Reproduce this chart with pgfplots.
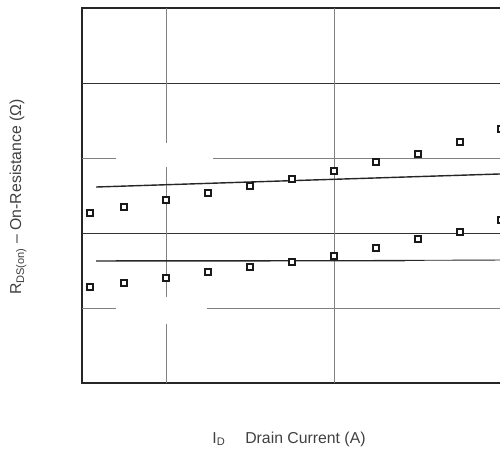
\documentclass[border=0pt]{standalone}
\usepackage{pgfplots}
\pgfplotsset{compat=1.18}
\usepackage{fontspec}
\setmainfont{Liberation Sans}
\begin{document}
\begin{tikzpicture}[x=1pt,y=1pt]
\path[use as bounding box] (0,0) rectangle (500,454);
\clip (0,0) rectangle (500,454);
\begin{axis}[
  at={(82pt,71pt)}, anchor=south west,
  scale only axis, width=420pt, height=375pt,
  xmin=0, xmax=5, ymin=0, ymax=5,
  ticks=none,
  clip=false,
  axis line style={line width=1.6pt, black!85},
]
% grid lines (with the gaps of the reference)
\draw[black!80, line width=0.9pt] (0,4) -- (5,4);
\draw[black!80, line width=0.9pt] (0,2) -- (5,2);
\draw[black!50, line width=0.9pt] (0,3) -- (0.405,3);
\draw[black!50, line width=0.9pt] (1.56,3) -- (5,3);
\draw[black!50, line width=0.9pt] (0,1) -- (0.405,1);
\draw[black!50, line width=0.9pt] (1.49,1) -- (5,1);
\draw[black!50, line width=0.9pt] (1,5) -- (1,3.2);
\draw[black!50, line width=0.9pt] (1,2.88) -- (1,1.147);
\draw[black!50, line width=0.9pt] (1,0.787) -- (1,0);
\draw[black!50, line width=0.9pt] (3,5) -- (3,0);
% fitted lines
\addplot[black!85, line width=1.4pt, no marks] coordinates {
  (0.167,2.613) (2,2.68) (4.98,2.787) (5.1,2.795)};
\addplot[black!85, line width=1.4pt, no marks] coordinates {
  (0.167,1.627) (3.845,1.631)};
\addplot[black!85, line width=0.9pt, no marks] coordinates {
  (3.845,1.635) (5.1,1.64)};
% measured points
\addplot[only marks, mark=square*, mark size=3.2pt,
  mark options={fill=white, draw=black!90, line width=1.5pt}] coordinates {
  (0.095,2.267) (0.5,2.347) (1.0,2.44) (1.5,2.533) (2.0,2.627)
  (2.5,2.72) (3.0,2.827) (3.5,2.947) (4.0,3.053) (4.5,3.213) (4.99,3.387)};
\addplot[only marks, mark=square*, mark size=3.2pt,
  mark options={fill=white, draw=black!90, line width=1.5pt}] coordinates {
  (0.095,1.28) (0.5,1.333) (1.0,1.40) (1.5,1.48) (2.0,1.547)
  (2.5,1.613) (3.0,1.693) (3.5,1.80) (4.0,1.92) (4.5,2.013) (4.99,2.173)};
\end{axis}
\node[rotate=90, text=black!75, font=\fontsize{15.8}{18}\selectfont] at (18,257)
  {R\textsubscript{DS(on)} -- On-Resistance (Ω)};
\node[text=black!75, font=\fontsize{15.8}{18}\selectfont] at (289,15)
  {I\textsubscript{D}\hspace{20pt}Drain Current (A)};
\end{tikzpicture}
\end{document}
